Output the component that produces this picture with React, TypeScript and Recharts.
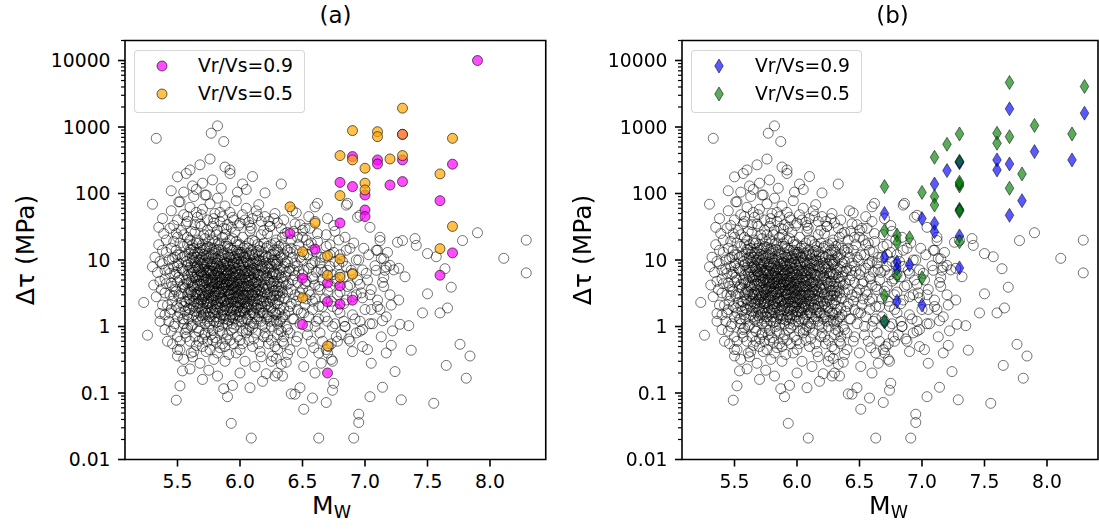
import { ScatterChart, Scatter, XAxis, YAxis, Legend, ReferenceArea } from "recharts";

const FONT = "DejaVu Sans, sans-serif";

// background catalogue: [Mw, stress drop in MPa]
const GRAY_EVENTS: [number, number][] = [
  // sparse / outliers
  [5.23, 2.3], [5.26, 0.74], [5.3, 7.9], [5.3, 69], [5.36, 1.57], [5.49, 0.078], [5.52, 0.128], [5.54, 0.215],
  [5.5, 0.36], [5.61, 0.4], [5.93, 0.035], [6.09, 0.021], [5.87, 0.116], [5.9, 0.088], [5.94, 0.13],
  [6.21, 0.195], [6.28, 0.18], [6.34, 0.18], [6.41, 0.097], [6.44, 0.096], [6.48, 0.12], [6.51, 0.057],
  [6.58, 0.084], [6.69, 0.072], [6.74, 0.11], [6.63, 0.021], [6.91, 0.021], [6.95, 0.048], [6.95, 0.036],
  [7.04, 0.088], [7.14, 0.122], [7.29, 0.079], [7.55, 0.07], [7.05, 0.28], [7.24, 0.21], [7.37, 0.44],
  [7.21, 0.52], [7.17, 0.4], [7.65, 0.26], [7.76, 0.54], [7.84, 0.36], [7.81, 0.167], [6.9, 0.42], [6.98, 0.5],
  [7.9, 25.7], [7.78, 19.6], [8.11, 10.6], [8.29, 19.9], [8.29, 6.4], [7.5, 12.5], [7.41, 16.6], [7.4, 21],
  [7.3, 19.6], [7.26, 18.5], [7.57, 11.2], [7.64, 7.4], [7.69, 3.9], [7.5, 3.1], [7.46, 1.6], [7.6, 1.6],
  [7.66, 1.9], [7.32, 5.6], [7.23, 7.1], [7.27, 2.5], [7.21, 2.1], [7.35, 1.03], [7.28, 1.08], [7.12, 19.6],
  [7.1, 14], [7.13, 10.6], [7.17, 7.9], [7.14, 4.6], [7.15, 4.0], [7.05, 1.8], [7.14, 1.22], [7.22, 0.86],
  [5.33, 676], [5.82, 1040], [5.77, 807], [5.87, 605], [5.76, 330], [5.5, 178], [5.57, 200], [5.6, 226],
  [5.68, 270], [5.92, 226], [5.92, 200], [5.7, 143], [6.02, 139], [6.33, 139], [5.73, 95], [5.51, 75],
  [6.62, 71], [6.6, 63], [5.45, 110], [5.62, 130], [5.78, 160], [5.85, 120], [5.98, 105], [6.05, 115],
  [6.1, 180], [6.2, 102], [5.55, 105], [5.88, 250], [5.65, 115],
  [6.45, 51], [6.85, 67], [6.94, 44], [7.04, 31], [7.09, 14], [7.15, 10.4], [7.27, 7.5], [7.2, 8.3],
  [7.16, 7], [7.09, 7], [6.98, 7.1], [7.02, 5], [6.96, 4.3], [7.04, 3], [6.98, 2.7], [7.1, 2.5], [7.12, 1.8],
  [7.04, 1.1], [6.98, 0.9], [6.96, 1.2], [6.93, 0.8], [6.84, 1.0], [6.81, 0.75], [6.87, 0.65], [6.78, 0.6],
  [6.73, 0.55], [6.69, 0.45], [6.63, 0.4], [6.59, 0.48], [6.7, 0.4], [6.73, 0.32], [6.65, 0.28], [6.74, 0.3],
  [6.75, 0.14], [6.6, 0.2], [6.51, 0.25], [6.37, 0.29], [6.29, 0.33], [6.33, 0.27], [6.96, 47], [6.86, 71],
  // 20 - 100 MPa
  [5.38, 42], [5.45, 55], [5.47, 33], [5.52, 75], [5.55, 48], [5.58, 38], [5.6, 62], [5.63, 90], [5.66, 44],
  [5.68, 35], [5.7, 58], [5.72, 95], [5.74, 40], [5.76, 70], [5.78, 32], [5.8, 50], [5.82, 85], [5.84, 38],
  [5.86, 45], [5.88, 65], [5.9, 34], [5.92, 52], [5.95, 40], [5.97, 78], [6.0, 36], [6.02, 48], [6.05, 60],
  [6.08, 33], [6.1, 42], [6.13, 55], [6.17, 38], [6.2, 45], [6.24, 32], [6.28, 50], [6.3, 36], [6.35, 40],
  [6.42, 55], [6.48, 34], [6.55, 45], [6.6, 38], [6.7, 42], [6.75, 33], [5.35, 31], [5.5, 40], [5.65, 52],
  [5.79, 42], [5.93, 31], [6.07, 37], [6.15, 68],
  [5.58, 45], [5.64, 34], [5.69, 48], [5.74, 28], [5.79, 36], [5.84, 52], [5.89, 29], [5.94, 44], [5.99, 33],
  [6.04, 40], [6.09, 30], [6.14, 46], [6.19, 28], [6.23, 38], [6.27, 42], [6.33, 30], [6.38, 26], [6.44, 35],
  [6.5, 28], [6.56, 30],
  // main cloud
  [5.31, 4.2], [5.32, 11], [5.33, 2.8], [5.34, 6.5], [5.35, 17], [5.36, 1.2], [5.37, 3.6], [5.38, 8.8],
  [5.39, 25], [5.4, 0.9], [5.4, 5.2], [5.41, 13], [5.42, 2.1], [5.43, 7.4], [5.44, 30], [5.44, 1.6],
  [5.45, 4.5], [5.46, 10.5], [5.46, 0.55], [5.47, 19], [5.47, 2.9], [5.48, 6.1], [5.48, 1.1], [5.49, 14],
  [5.49, 3.4], [5.5, 0.7], [5.5, 8.2], [5.5, 22],
  [5.51, 1.9], [5.51, 5.5], [5.52, 12], [5.52, 0.45], [5.53, 3.1], [5.53, 28], [5.54, 7.2], [5.54, 1.3],
  [5.55, 16], [5.55, 4.3], [5.56, 0.8], [5.56, 2.4], [5.57, 9.5], [5.57, 35], [5.58, 5.9], [5.58, 1.5],
  [5.59, 13], [5.59, 3.3], [5.6, 0.6], [5.6, 7.8], [5.6, 20], [5.61, 2.2], [5.61, 4.8], [5.62, 11],
  [5.62, 1.05], [5.62, 0.35],
  [5.63, 3.9], [5.63, 15], [5.63, 6.6], [5.64, 1.7], [5.64, 26], [5.64, 9.2], [5.65, 2.6], [5.65, 0.52],
  [5.65, 5.1], [5.66, 12.5], [5.66, 1.25], [5.66, 3.3], [5.67, 7.5], [5.67, 18], [5.67, 0.85], [5.68, 4.4],
  [5.68, 2.0], [5.68, 10], [5.69, 6.0], [5.69, 1.45], [5.69, 32], [5.7, 3.0], [5.7, 14], [5.7, 0.65],
  [5.71, 8.5], [5.71, 2.3], [5.71, 4.9], [5.72, 1.1], [5.72, 21], [5.72, 5.8], [5.73, 3.5], [5.73, 11.5],
  [5.73, 0.42], [5.74, 1.9], [5.74, 7.0], [5.74, 16], [5.75, 2.7], [5.75, 4.1], [5.75, 0.95],
  [5.76, 9.0], [5.76, 1.6], [5.76, 24], [5.77, 3.7], [5.77, 5.4], [5.77, 0.75], [5.78, 2.1], [5.78, 13],
  [5.78, 6.8], [5.79, 1.2], [5.79, 4.0], [5.79, 0.32], [5.8, 2.9], [5.8, 10.5], [5.8, 19], [5.8, 7.6],
  [5.81, 1.8], [5.81, 3.4], [5.81, 0.58], [5.82, 5.0], [5.82, 2.4], [5.82, 28], [5.83, 8.0], [5.83, 1.0],
  [5.83, 14.5], [5.84, 3.1], [5.84, 4.6], [5.84, 0.48], [5.85, 6.2], [5.85, 1.5], [5.85, 11], [5.86, 2.6],
  [5.86, 22], [5.86, 0.8], [5.87, 3.8], [5.87, 9.4], [5.87, 1.3], [5.88, 5.7], [5.88, 2.0], [5.88, 16],
  [5.89, 0.65], [5.89, 4.3], [5.89, 7.1], [5.9, 1.1], [5.9, 2.8], [5.9, 12.5],
  [5.91, 3.5], [5.91, 6.4], [5.91, 0.38], [5.92, 1.7], [5.92, 20], [5.92, 4.8], [5.93, 2.3], [5.93, 9.8],
  [5.93, 0.9], [5.94, 5.3], [5.94, 1.35], [5.94, 14], [5.95, 3.0], [5.95, 7.7], [5.95, 0.55], [5.96, 2.0],
  [5.96, 4.0], [5.96, 26], [5.97, 1.05], [5.97, 10.5], [5.97, 6.0], [5.98, 2.7], [5.98, 0.7], [5.98, 17],
  [5.99, 3.9], [5.99, 1.5], [5.99, 8.4], [6.0, 5.2], [6.0, 0.45], [6.0, 2.2], [6.0, 13], [6.01, 3.3],
  [6.01, 1.2], [6.02, 7.0], [6.02, 22], [6.02, 0.85], [6.03, 2.5], [6.03, 4.5], [6.04, 11], [6.04, 1.6],
  [6.04, 0.3], [6.05, 6.3], [6.05, 3.0],
  [6.06, 1.9], [6.06, 15], [6.07, 0.62], [6.07, 4.1], [6.07, 8.7], [6.08, 2.6], [6.08, 27], [6.09, 1.15],
  [6.09, 5.6], [6.1, 3.5], [6.1, 12], [6.1, 0.5], [6.11, 7.5], [6.11, 2.1], [6.12, 19], [6.12, 1.4],
  [6.12, 4.7], [6.13, 0.8], [6.13, 9.6], [6.14, 3.0], [6.14, 6.1], [6.15, 1.8], [6.15, 14], [6.16, 0.42],
  [6.16, 2.5], [6.17, 5.0], [6.17, 24], [6.18, 1.05], [6.18, 8.0], [6.19, 3.7], [6.19, 0.7], [6.2, 11],
  [6.2, 2.0],
  [6.21, 5.8], [6.21, 1.3], [6.22, 16], [6.22, 3.1], [6.23, 0.55], [6.23, 7.3], [6.24, 2.4], [6.24, 32],
  [6.25, 4.4], [6.25, 1.0], [6.26, 10], [6.26, 0.36], [6.27, 2.9], [6.27, 6.6], [6.28, 1.6], [6.28, 18],
  [6.29, 4.0], [6.3, 0.75], [6.3, 8.8], [6.3, 2.2], [6.31, 13], [6.32, 3.4], [6.32, 1.2], [6.33, 5.5],
  [6.34, 0.6], [6.34, 22], [6.35, 2.7], [6.36, 9.0], [6.36, 1.5], [6.37, 4.2], [6.38, 0.9], [6.38, 14],
  [6.39, 6.8], [6.4, 2.0], [6.4, 0.45],
  [6.41, 3.6], [6.42, 11], [6.43, 1.3], [6.43, 27], [6.44, 5.8], [6.45, 2.4], [6.46, 0.7], [6.46, 8.2],
  [6.47, 17], [6.48, 3.2], [6.49, 1.6], [6.5, 6.0], [6.5, 0.4], [6.51, 12], [6.52, 2.1], [6.52, 4.4],
  [6.53, 20], [6.54, 1.0], [6.55, 7.5], [6.56, 3.0], [6.57, 0.6], [6.58, 14], [6.58, 1.8], [6.59, 5.2],
  [6.6, 9.6], [6.6, 2.6], [6.61, 1.2], [6.62, 25], [6.63, 4.0], [6.64, 0.8], [6.65, 11], [6.66, 2.0],
  [6.67, 6.5], [6.68, 1.4], [6.69, 16], [6.7, 3.4], [6.71, 0.5], [6.72, 8.0], [6.73, 2.4], [6.74, 1.0],
  [6.75, 13], [6.76, 4.8], [6.77, 0.7], [6.78, 3.0], [6.79, 20], [6.8, 1.6], [6.8, 6.0],
  [6.82, 9.5], [6.83, 2.2], [6.84, 1.0], [6.85, 14], [6.86, 4.0], [6.88, 0.6], [6.89, 7.0], [6.9, 2.8],
  [6.91, 18], [6.92, 1.3], [6.94, 5.0], [6.95, 10], [6.96, 0.85], [6.97, 3.2], [6.99, 15], [7.0, 1.8],
  [7.01, 6.3], [7.02, 0.45], [7.03, 12], [7.05, 3.6], [7.06, 1.1], [7.08, 8.2], [7.1, 2.0], [7.12, 22],
  [7.13, 0.7], [7.15, 5.5], [7.17, 1.4], [7.18, 13], [7.2, 3.0],
  // dense core
  [5.66, 4.2], [5.67, 2.9], [5.68, 3.6], [5.69, 2.5], [5.7, 5.6], [5.7, 1.9], [5.71, 3.2], [5.72, 7.8],
  [5.72, 2.9], [5.73, 4.6], [5.73, 1.6], [5.74, 3.3], [5.75, 6.3], [5.75, 1.4], [5.76, 2.3], [5.76, 4.7],
  [5.77, 8.2], [5.77, 2.8], [5.78, 3.9], [5.78, 1.7], [5.79, 5.9], [5.79, 2.5], [5.8, 4.4], [5.8, 1.4],
  [5.81, 6.9], [5.81, 2.7], [5.82, 3.7], [5.82, 1.6], [5.83, 5.6], [5.83, 2.2], [5.84, 7.4], [5.84, 1.9],
  [5.85, 3.3], [5.85, 4.1], [5.86, 5.3], [5.86, 1.7], [5.87, 2.4], [5.87, 6.6], [5.88, 3.4], [5.88, 1.45],
  [5.89, 2.6], [5.89, 9.0], [5.9, 4.6], [5.9, 1.8], [5.91, 2.3], [5.91, 5.0], [5.92, 3.1], [5.92, 7.2],
  [5.93, 1.5], [5.93, 4.2], [5.94, 2.6], [5.94, 3.6], [5.95, 1.8], [5.95, 5.5], [5.96, 3.2], [5.96, 8.8],
  [5.97, 2.3], [5.97, 4.6], [5.98, 1.9], [5.98, 6.5], [5.99, 2.9], [5.99, 4.9], [6.0, 1.7], [6.0, 3.5],
  [6.01, 6.8], [6.01, 2.5], [6.02, 4.1], [6.02, 1.9], [6.03, 3.0], [6.03, 9.0], [6.04, 2.3], [6.04, 5.4],
  [6.05, 1.3], [6.05, 4.0], [6.06, 2.9], [6.06, 6.9], [6.07, 2.0], [6.08, 3.9], [6.08, 1.5], [6.09, 7.2],
  [6.1, 2.4], [6.11, 4.5], [6.12, 3.2], [6.13, 1.9], [6.14, 5.0], [6.15, 2.6], [6.16, 8.2], [6.17, 3.3],
  [5.55, 2.0], [5.55, 6.8], [5.55, 1.1], [5.56, 3.8], [5.56, 11.5], [5.56, 1.7], [5.57, 5.0], [5.57, 2.3],
  [5.57, 0.9], [5.58, 8.5], [5.58, 3.0], [5.58, 17], [5.59, 1.3], [5.59, 4.6], [5.59, 2.6], [5.6, 10.5],
  [5.6, 3.6], [5.6, 1.8], [5.61, 6.2], [5.61, 14], [5.61, 1.0], [5.62, 2.9], [5.62, 4.2], [5.62, 7.0],
  [5.63, 1.5], [5.63, 9.8], [5.63, 2.4], [5.64, 3.1], [5.64, 5.5], [5.64, 13], [5.65, 7.8], [5.65, 1.9],
  [5.65, 18], [5.66, 2.2], [5.66, 6.0], [5.66, 0.95], [5.67, 4.9], [5.67, 10], [5.67, 1.6], [5.68, 1.2],
  [5.68, 6.9], [5.68, 15], [5.69, 3.4], [5.69, 8.8], [5.69, 4.8], [5.7, 2.6], [5.7, 9.0], [5.7, 1.35],
  [5.71, 1.5], [5.71, 5.9], [5.71, 12], [5.72, 3.9], [5.72, 14.5], [5.72, 0.8], [5.73, 2.2], [5.73, 6.5],
  [5.73, 8.8], [5.74, 5.2], [5.74, 1.2], [5.74, 2.4], [5.75, 3.0], [5.75, 10.5], [5.75, 19], [5.76, 1.1],
  [5.76, 3.5], [5.76, 6.8], [5.77, 1.9], [5.77, 12], [5.77, 4.3], [5.78, 5.0], [5.78, 8.6], [5.78, 0.62],
  [5.79, 2.9], [5.79, 3.4], [5.79, 15], [5.8, 6.0], [5.8, 1.8], [5.8, 12.5], [5.81, 4.6], [5.81, 9.0],
  [5.81, 1.15], [5.82, 2.0], [5.82, 6.4], [5.82, 10], [5.83, 3.3], [5.83, 4.0], [5.83, 18], [5.84, 2.6],
  [5.84, 9.8], [5.84, 1.3], [5.85, 5.1], [5.85, 2.3], [5.85, 7.8], [5.86, 3.7], [5.86, 12], [5.86, 1.05],
  [5.87, 4.7], [5.87, 1.8], [5.87, 8.6], [5.88, 2.4], [5.88, 7.0], [5.88, 24], [5.89, 3.9], [5.89, 1.3],
  [5.89, 5.2], [5.9, 6.2], [5.9, 2.2], [5.9, 16], [5.91, 1.25], [5.91, 8.0], [5.91, 3.0], [5.92, 2.6],
  [5.92, 5.8], [5.92, 11], [5.93, 3.6], [5.93, 6.9], [5.93, 1.9], [5.94, 1.1], [5.94, 4.5], [5.94, 9.0],
  [5.95, 2.4], [5.95, 11], [5.95, 3.8], [5.96, 5.7], [5.96, 1.5], [5.96, 6.8], [5.97, 3.4], [5.97, 14],
  [5.97, 1.7], [5.98, 4.3], [5.98, 9.2], [5.98, 2.3], [5.99, 1.2], [5.99, 6.0], [5.99, 12], [6.0, 7.6],
  [6.0, 2.7], [6.0, 4.6], [6.01, 1.7], [6.01, 9.6], [6.01, 4.0], [6.02, 3.1], [6.02, 12], [6.02, 1.3],
  [6.03, 6.0], [6.03, 1.7], [6.03, 15], [6.04, 3.7], [6.04, 7.8], [6.04, 2.8], [6.05, 2.0], [6.05, 10],
  [6.05, 0.9], [6.06, 4.6], [6.06, 1.3], [6.06, 3.5], [6.07, 5.8], [6.07, 12.5], [6.07, 2.4], [6.08, 1.0],
  [6.08, 6.5], [6.08, 8.5], [6.09, 3.0], [6.09, 2.0], [6.09, 14], [6.1, 5.0], [6.1, 1.6], [6.1, 7.0],
  [6.11, 2.9], [6.11, 10.5], [6.11, 1.1], [6.12, 6.3], [6.12, 2.4], [6.12, 9.0], [6.13, 3.6], [6.13, 13],
  [6.13, 4.6], [6.14, 1.3], [6.14, 8.4], [6.14, 2.1], [6.15, 4.2], [6.15, 6.0], [6.15, 10], [6.16, 1.6],
  [6.16, 3.5], [6.16, 16], [6.17, 2.2], [6.17, 7.6], [6.17, 1.2], [6.18, 4.0], [6.18, 12], [6.18, 2.8],
  [6.19, 6.4], [6.19, 1.6], [6.19, 9.5], [6.2, 3.2], [6.2, 5.2], [6.2, 1.0], [6.21, 2.4], [6.21, 9.0],
  [6.21, 15], [6.22, 1.5], [6.22, 5.5], [6.22, 7.8], [6.23, 3.8], [6.23, 11], [6.23, 2.0], [6.24, 1.2],
  [6.24, 6.4], [6.24, 4.6], [6.25, 2.7], [6.25, 8.0], [6.25, 17], [6.26, 3.9], [6.26, 1.7], [6.26, 5.6],
  [6.27, 9.8], [6.27, 1.25], [6.27, 3.4], [6.28, 2.2], [6.28, 6.2], [6.28, 12], [6.29, 1.5], [6.29, 8.6],
  [6.29, 2.9], [6.3, 4.7], [6.3, 14], [6.3, 1.1],
  [5.58, 4.4], [5.58, 22], [5.59, 7.0], [5.59, 1.9], [5.6, 2.5], [5.6, 14.5], [5.61, 3.3], [5.61, 9.0],
  [5.61, 27], [5.62, 5.5], [5.62, 17], [5.63, 2.0], [5.63, 12], [5.64, 4.2], [5.64, 7.6], [5.65, 3.0],
  [5.65, 11], [5.65, 1.4], [5.66, 8.2], [5.66, 20], [5.67, 2.3], [5.67, 5.6], [5.68, 13], [5.68, 3.0],
  [5.69, 1.8], [5.69, 11], [5.69, 6.6], [5.7, 4.3], [5.7, 17], [5.71, 2.8], [5.71, 7.2], [5.71, 24],
  [5.72, 1.7], [5.72, 10], [5.73, 5.1], [5.73, 15], [5.74, 2.2], [5.74, 9.4], [5.75, 3.6], [5.75, 12.5],
  [5.75, 7.0], [5.76, 1.4], [5.76, 15.5], [5.77, 6.2], [5.77, 2.4], [5.78, 10.5], [5.78, 4.6], [5.78, 20],
  [5.79, 1.6], [5.79, 8.0], [5.8, 3.2], [5.8, 5.3], [5.81, 14], [5.81, 2.2], [5.81, 24], [5.82, 4.4],
  [5.82, 8.8], [5.83, 1.2], [5.83, 11.5], [5.83, 6.8], [5.84, 5.6], [5.84, 17], [5.85, 2.7], [5.85, 14],
  [5.86, 7.2], [5.86, 4.3], [5.87, 1.5], [5.87, 12.5], [5.87, 30], [5.88, 4.2], [5.88, 10.5], [5.89, 2.1],
  [5.89, 6.0], [5.89, 18], [5.9, 3.4], [5.9, 8.4], [5.91, 11], [5.91, 4.2], [5.92, 1.4], [5.92, 8.6],
  [5.92, 15], [5.93, 3.0], [5.93, 12], [5.94, 6.2], [5.94, 2.0], [5.94, 21], [5.95, 4.6], [5.95, 9.0],
  [5.96, 1.3], [5.96, 11.5], [5.97, 2.8], [5.97, 7.4], [5.97, 19], [5.98, 3.6], [5.98, 13], [5.99, 2.0],
  [5.99, 10.5], [6.0, 6.0], [6.0, 1.4], [6.0, 17], [6.01, 5.2], [6.01, 13], [6.02, 2.6], [6.02, 8.4],
  [6.03, 4.0], [6.03, 11], [6.04, 1.9], [6.04, 16], [6.04, 6.8], [6.05, 5.0], [6.05, 12.5], [6.06, 2.2],
  [6.06, 9.4], [6.07, 3.2], [6.07, 6.8], [6.07, 18], [6.08, 5.0], [6.08, 11.5], [6.09, 1.8], [6.09, 4.3],
  [6.1, 9.0], [6.1, 3.0], [6.1, 20], [6.11, 1.6], [6.11, 6.0], [6.12, 12], [6.12, 3.9], [6.13, 2.6],
  [6.13, 7.2], [6.14, 4.0], [6.14, 17], [6.15, 1.4], [6.15, 11.5], [6.15, 3.4], [6.16, 5.8], [6.16, 9.6],
  [6.17, 2.0], [6.17, 13.5], [6.18, 6.0], [6.18, 1.6], [6.19, 2.4], [6.19, 18], [6.2, 7.4], [6.2, 4.2],
  [6.21, 3.6], [6.21, 11.5], [6.22, 2.2], [6.22, 25], [6.23, 5.0], [6.23, 1.4], [6.24, 8.8], [6.24, 3.0],
  [6.25, 1.9], [6.25, 12], [6.26, 6.2], [6.26, 2.5], [6.27, 14], [6.27, 4.8], [6.28, 3.5], [6.28, 9.4],
  [6.29, 1.2], [6.29, 6.0], [6.29, 20], [6.3, 3.2], [6.3, 10], [6.31, 4.0], [6.31, 1.6], [6.31, 16],
  [6.32, 7.0], [6.32, 2.8], [6.33, 1.3], [6.33, 10.5], [6.34, 4.6], [6.34, 3.2], [6.35, 8.0], [6.35, 1.9],
  [6.36, 5.6], [6.36, 15],
  // west flank of the cloud
  [5.36, 4.8], [5.36, 9.5], [5.38, 2.1], [5.38, 14], [5.4, 3.2], [5.4, 7.0], [5.4, 1.5], [5.41, 20],
  [5.41, 4.4], [5.43, 1.2], [5.43, 10], [5.44, 3.0], [5.44, 6.3], [5.45, 1.8], [5.45, 15], [5.46, 4.0],
  [5.46, 2.4], [5.47, 8.0], [5.47, 1.0], [5.48, 3.6], [5.48, 11], [5.49, 2.0], [5.49, 6.6], [5.49, 25],
  [5.5, 1.4], [5.5, 4.6], [5.5, 12], [5.51, 2.9], [5.51, 9.0], [5.52, 1.6], [5.52, 5.0], [5.52, 18],
  [5.53, 7.5], [5.53, 2.3], [5.54, 3.9], [5.54, 11], [5.55, 1.3], [5.55, 24],
  // east flank
  [6.31, 2.5], [6.31, 6.0], [6.31, 0.9], [6.32, 11], [6.32, 1.8], [6.33, 3.9], [6.33, 17], [6.34, 1.4],
  [6.34, 7.2], [6.35, 4.8], [6.35, 12], [6.35, 0.55], [6.36, 2.6], [6.36, 25], [6.37, 6.6], [6.37, 1.0],
  [6.38, 3.3], [6.38, 9.5], [6.39, 1.7], [6.39, 4.4], [6.4, 13], [6.4, 7.5], [6.4, 0.8], [6.41, 2.2],
  [6.41, 20], [6.42, 5.0], [6.42, 1.3], [6.44, 3.0], [6.44, 9.0], [6.45, 14], [6.45, 0.6], [6.46, 1.8],
  [6.46, 4.6], [6.47, 6.8], [6.47, 2.8], [6.48, 11], [6.48, 1.1], [6.5, 3.6], [6.5, 22], [6.51, 1.6],
  [6.51, 7.0], [6.53, 4.8], [6.53, 2.6], [6.54, 12], [6.54, 0.75], [6.55, 1.4], [6.55, 3.4], [6.57, 8.5],
  [6.57, 18], [6.58, 2.4], [6.58, 5.6], [6.6, 1.0], [6.6, 4.2], [6.61, 6.6], [6.61, 13], [6.63, 2.0],
  [6.63, 1.3], [6.64, 9.0], [6.64, 3.6], [6.66, 5.0], [6.66, 0.6], [6.68, 2.6], [6.68, 11], [6.7, 1.2],
  [6.7, 7.0], [6.72, 4.0], [6.72, 17], [6.74, 2.0], [6.74, 6.0], [6.76, 1.1], [6.76, 9.5], [6.78, 5.2],
  [6.78, 1.8], [6.8, 3.3], [6.8, 12], [6.83, 5.6], [6.83, 1.2], [6.85, 2.5], [6.85, 8.0], [6.88, 4.2],
  [6.88, 15], [6.9, 1.5], [6.9, 6.3], [6.93, 3.0], [6.93, 10],
  [6.41, 15], [6.43, 7.0], [6.46, 22], [6.49, 10], [6.52, 30], [6.55, 17], [6.58, 9.0], [6.62, 19],
  [6.65, 7.2], [6.69, 24], [6.72, 12], [6.76, 27], [6.79, 8.5], [6.84, 22],
  // below 1 MPa
  [5.42, 0.6], [5.5, 0.45], [5.57, 0.7], [5.63, 0.42], [5.67, 0.6], [5.72, 0.75], [5.76, 0.45], [5.8, 0.68],
  [5.84, 0.85], [5.88, 0.5], [5.92, 0.62], [5.97, 0.4], [6.02, 0.55], [6.07, 0.9], [6.11, 0.65], [6.17, 0.35],
  [6.22, 0.7], [6.28, 0.5], [6.33, 0.85], [6.38, 0.38],
  [5.45, 0.85], [5.52, 0.6], [5.58, 0.95], [5.64, 0.7], [5.7, 0.5], [5.74, 0.6], [5.78, 0.88], [5.82, 0.4],
  [5.86, 0.55], [5.9, 0.75], [5.95, 0.95], [6.0, 0.62], [6.05, 0.8], [6.1, 0.95], [6.15, 0.55], [6.2, 0.8],
  [6.25, 0.62], [6.3, 0.45], [6.35, 0.7], [5.55, 0.32], [5.68, 0.28], [5.88, 0.3], [6.12, 0.25], [6.25, 0.3],
  [5.6, 0.23], [5.75, 0.22], [6.0, 0.2], [6.18, 0.15], [5.82, 0.18], [5.7, 0.16], [6.08, 0.12], [6.3, 0.2],
];

// panel (a): circles
const VR09_A: [number, number][] = [
  [7.9, 10000], [6.9, 359], [7.1, 320], [7.1, 278], [7.3, 320], [7.3, 776], [7.7, 276], [6.8, 147], [6.9, 127],
  [7.0, 95], [7.2, 134], [7.3, 151], [7.6, 78], [7.0, 56.5], [7.0, 45], [6.8, 36], [6.4, 25], [7.7, 12.8],
  [6.6, 14.6], [7.6, 5.9], [6.5, 5.3], [6.7, 4.5], [6.8, 4.1], [6.7, 2.35], [6.8, 2.17], [6.9, 2.49],
  [6.5, 1.07], [6.7, 0.2],
];
const VR05_A: [number, number][] = [
  [7.3, 1920], [6.9, 883], [7.1, 850], [7.1, 716], [7.3, 776], [7.7, 676], [6.8, 372], [6.9, 320], [7.2, 331],
  [7.3, 372], [7.0, 240], [7.0, 143], [7.0, 113], [6.8, 93], [7.6, 197], [7.7, 32], [6.4, 63], [6.6, 36],
  [7.6, 14.8], [6.5, 13.3], [6.7, 11.6], [6.8, 10.4], [6.9, 6.1], [6.7, 5.9], [6.8, 5.5], [6.5, 2.7],
  [6.7, 0.51],
];

// panel (b): diamonds
const VR09_B: [number, number][] = [
  [7.7, 1875], [8.3, 1615], [7.9, 427], [8.2, 320], [7.6, 320], [7.6, 226], [7.7, 278], [7.2, 221],
  [7.1, 139], [7.8, 78], [7.7, 47], [6.7, 50], [7.0, 42], [7.1, 35.5], [7.1, 26.6], [7.3, 300], [7.3, 290],
  [7.3, 56], [7.3, 23], [6.7, 11], [6.8, 9.3], [6.8, 7.4], [6.9, 8.5], [7.3, 7.6], [6.8, 2.4], [7.0, 2.1],
  [6.7, 1.17],
];
const VR05_B: [number, number][] = [
  [7.7, 4670], [8.3, 4070], [7.9, 1055], [8.2, 787], [7.6, 805], [7.6, 570], [7.7, 716], [7.3, 787],
  [7.2, 550], [7.1, 351], [7.8, 197], [7.7, 120], [6.7, 127], [7.0, 104], [7.1, 90], [7.1, 67],
  [7.3, 305], [7.3, 130], [7.3, 139], [7.3, 148], [7.3, 58], [7.3, 54], [6.7, 27.6], [6.8, 23.7],
  [6.8, 18.3], [6.9, 21.6], [7.3, 18.8], [6.8, 5.9], [7.0, 5.4], [6.7, 2.9], [6.7, 1.2],
];

const X_TICKS = [5.5, 6, 6.5, 7, 7.5, 8];
const Y_MAJOR = [0.01, 0.1, 1, 10, 100, 1000, 10000];
const Y_MAX = 20000;
const Y_TICKS = Y_MAJOR.flatMap(m => [m, ...[2, 3, 4, 5, 6, 7, 8, 9].map(k => +(m * k).toPrecision(3))]).filter(v => v <= Y_MAX);

const toPts = (arr: [number, number][]) => arr.map(([mw, dt]) => ({ mw, dt }));

const PLOT_LEFT = 125;
const PLOT_TOP = 40.5;
const PLOT_BOTTOM = 459.5;
const H = 531;

function YTick({ x, y, payload }: any) {
  const v = payload.value;
  const major = Y_MAJOR.includes(v);
  const len = major ? 7 : 4;
  return (
    <g>
      <line x1={x - len} x2={x} y1={y} y2={y} stroke="#000" strokeWidth={major ? 1.6 : 1.2} />
      {major && (
        <text x={x - 14.5} y={y + 6.8} textAnchor="end" fontSize={18.75} fontFamily={FONT} fill="#000">
          {String(v)}
        </text>
      )}
    </g>
  );
}

function XTick({ x, y, payload }: any) {
  return (
    <g>
      <line x1={x} x2={x} y1={y} y2={y + 7} stroke="#000" strokeWidth={1.6} />
      <text x={x} y={y + 28.5} textAnchor="middle" fontSize={18.75} fontFamily={FONT} fill="#000">
        {payload.value.toFixed(1)}
      </text>
    </g>
  );
}

function circle(fill: string, fillOpacity: number, strokeOpacity: number) {
  return (p: any) => (
    <circle cx={p.cx} cy={p.cy} r={5} fill={fill} fillOpacity={fillOpacity} stroke="#000" strokeOpacity={strokeOpacity} strokeWidth={1} />
  );
}

function diamond(fill: string) {
  return (p: any) => (
    <path
      d={`M${p.cx},${p.cy - 7}L${p.cx + 4.3},${p.cy}L${p.cx},${p.cy + 7}L${p.cx - 4.3},${p.cy}Z`}
      fill={fill}
      fillOpacity={0.65}
      stroke="#000"
      strokeOpacity={0.65}
      strokeWidth={0.8}
    />
  );
}

function LegendBox({ items }: { items: { label: string; marker: React.ReactNode }[] }) {
  return (
    <div style={{ width: 169, height: 61, border: "1px solid rgba(204,204,204,0.8)", borderRadius: 4, background: "rgba(255,255,255,0.8)", fontFamily: FONT, fontSize: 18.75 }}>
      {items.map((it, i) => (
        <div key={i} style={{ position: "absolute", left: 0, top: 2 + i * 28.3, height: 28, display: "flex", alignItems: "center" }}>
          <svg width={60} height={28} style={{ display: "block" }}>{it.marker}</svg>
          <span style={{ marginLeft: 4, whiteSpace: "nowrap", lineHeight: "28px" }}>{it.label}</span>
        </div>
      ))}
    </div>
  );
}

function Panel({ title, width, xMax, series, legend }: any) {
  const plotRight = PLOT_LEFT + (xMax - 5.08) * 125;
  return (
    <div style={{ position: "relative", width, height: H }}>
      <div style={{ position: "absolute", left: PLOT_LEFT, width: 421, top: 1, textAlign: "center", fontFamily: FONT, fontSize: 23, lineHeight: "28px" }}>
        {title}
      </div>
      <ScatterChart width={width} height={H} margin={{ top: PLOT_TOP, left: PLOT_LEFT - 60, right: width - plotRight, bottom: H - PLOT_BOTTOM - 30 }}>
        <XAxis
          type="number"
          dataKey="mw"
          domain={[5.08, xMax]}
          ticks={X_TICKS}
          interval={0}
          height={30}
          axisLine={false}
          tickLine={false}
          tickSize={0}
          tickMargin={0}
          tick={<XTick />}
          allowDataOverflow
          label={{
            content: () => (
              <text x={PLOT_LEFT + 210.5 - 4} y={514} textAnchor="middle" fontSize={25} fontFamily={FONT} fill="#000">
                M<tspan fontSize={17.5} dy={4}>W</tspan>
              </text>
            ),
          }}
        />
        <YAxis
          type="number"
          dataKey="dt"
          scale="log"
          domain={[0.01, Y_MAX]}
          ticks={Y_TICKS}
          interval={0}
          width={60}
          axisLine={false}
          tickLine={false}
          tickSize={0}
          tickMargin={0}
          tick={<YTick />}
          allowDataOverflow
          label={{
            content: () => (
              <text x={34} y={(PLOT_TOP + PLOT_BOTTOM) / 2} transform={`rotate(-90 34 ${(PLOT_TOP + PLOT_BOTTOM) / 2})`} textAnchor="middle" fontSize={25} fontFamily={FONT} fill="#000">
                Δτ (MPa)
              </text>
            ),
          }}
        />
        {series.map((s: any) => (
          <Scatter key={s.name} name={s.name} data={s.data} shape={s.shape} isAnimationActive={false} />
        ))}
        <ReferenceArea x1={5.08} x2={xMax} y1={0.01} y2={Y_MAX} fill="none" stroke="#000" strokeWidth={1.6} ifOverflow="visible" />
        <Legend
          layout="vertical"
          align="center"
          verticalAlign="middle"
          wrapperStyle={{ position: "absolute", left: 134, top: 50, width: 171, height: 63 }}
          content={() => <LegendBox items={legend} />}
        />
      </ScatterChart>
    </div>
  );
}

export default function App() {
  const gray = toPts(GRAY_EVENTS);
  return (
    <div style={{ position: "fixed", left: 0, top: 0, width: 1099, height: H, background: "#fff", display: "flex" }}>
      <Panel
        title="(a)"
        width={557}
        xMax={8.446}
        series={[
          { name: "catalog", data: gray, shape: circle("none", 0, 0.55) },
          { name: "Vr/Vs=0.9", data: toPts(VR09_A), shape: circle("#ff00ff", 0.7, 0.6) },
          { name: "Vr/Vs=0.5", data: toPts(VR05_A), shape: circle("#ffa500", 0.7, 0.6) },
        ]}
        legend={[
          { label: "Vr/Vs=0.9", marker: <circle cx={28} cy={14} r={5} fill="#ff00ff" fillOpacity={0.7} stroke="#000" strokeOpacity={0.6} /> },
          { label: "Vr/Vs=0.5", marker: <circle cx={28} cy={14} r={5} fill="#ffa500" fillOpacity={0.7} stroke="#000" strokeOpacity={0.6} /> },
        ]}
      />
      <Panel
        title="(b)"
        width={542}
        xMax={8.408}
        series={[
          { name: "catalog", data: gray, shape: circle("none", 0, 0.55) },
          { name: "Vr/Vs=0.9", data: toPts(VR09_B), shape: diamond("#0000ff") },
          { name: "Vr/Vs=0.5", data: toPts(VR05_B), shape: diamond("#008000") },
        ]}
        legend={[
          { label: "Vr/Vs=0.9", marker: <path d="M28,7L32.3,14L28,21L23.7,14Z" fill="#0000ff" fillOpacity={0.65} stroke="#000" strokeOpacity={0.65} strokeWidth={0.8} /> },
          { label: "Vr/Vs=0.5", marker: <path d="M28,7L32.3,14L28,21L23.7,14Z" fill="#008000" fillOpacity={0.65} stroke="#000" strokeOpacity={0.65} strokeWidth={0.8} /> },
        ]}
      />
    </div>
  );
}
